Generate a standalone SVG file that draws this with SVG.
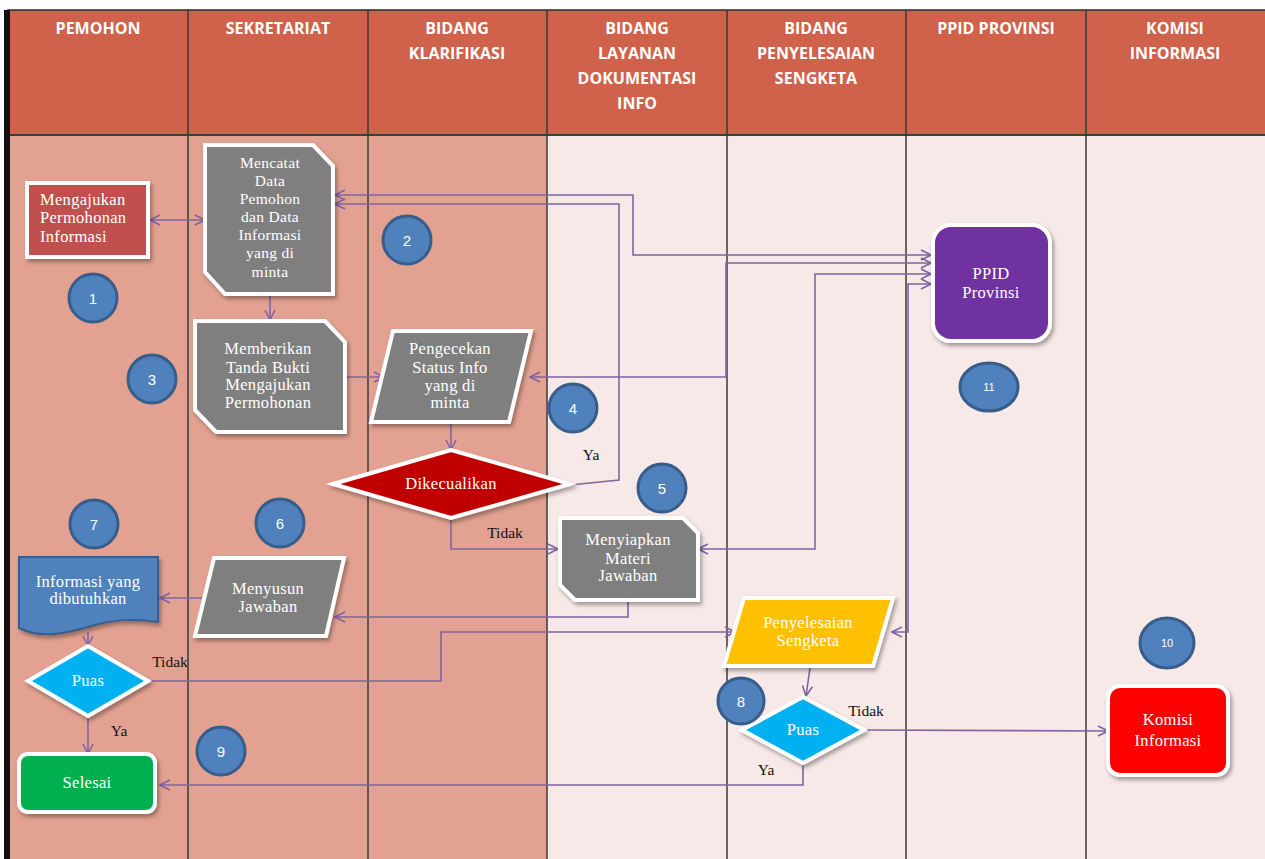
<svg xmlns="http://www.w3.org/2000/svg" width="1265" height="859" viewBox="0 0 1265 859">
<defs>
<style>
.hdr{fill:#D0614A;stroke:#2a2a2a;stroke-width:1.5}
.laneA{fill:#E3A291}
.laneB{fill:#F7E9E7}
.sep{stroke:#3a3a3a;stroke-width:1.5}
.ht{font-family:"Open Sans","Liberation Sans",sans-serif;font-weight:bold;font-size:16px;fill:#fff;text-anchor:middle}
.nt{font-family:"Liberation Serif","DejaVu Serif",serif;font-size:16.5px;letter-spacing:0.3px;fill:#fff;text-anchor:middle}
.lb{font-family:"Liberation Serif","DejaVu Serif",serif;font-size:15.5px;fill:#111;text-anchor:middle}
.box{stroke:#fff;stroke-width:4;filter:url(#sh)}
.gray{fill:#7F7F7F}
.num{fill:#4F81BD;stroke:#385D8A;stroke-width:3}
.nn{font-family:"Liberation Sans","Open Sans",sans-serif;font-size:15px;fill:#fff;text-anchor:middle}
.cn{fill:none;stroke:#8064A2;stroke-width:1.6}
</style>
<filter id="sh" x="-10%" y="-10%" width="130%" height="130%">
<feDropShadow dx="2" dy="3" stdDeviation="2" flood-color="#000" flood-opacity="0.35"/>
</filter>
<marker id="ar" viewBox="0 0 12 12" refX="11" refY="6" markerWidth="12" markerHeight="12" markerUnits="userSpaceOnUse" orient="auto-start-reverse">
<path d="M1,1 L11,6 L1,11" fill="none" stroke="#8064A2" stroke-width="1.6"/>
</marker>
</defs>

<g id="lanes">
<rect x="0" y="0" width="1265" height="859" fill="#fff"/>
<rect class="laneA" x="8" y="135" width="539" height="724"/>
<rect class="laneB" x="547" y="135" width="718" height="724"/>
<rect class="hdr" x="8" y="10" width="1262" height="125"/>
<line class="sep" x1="188" y1="10" x2="188" y2="859"/>
<line class="sep" x1="368" y1="10" x2="368" y2="859"/>
<line class="sep" x1="547" y1="10" x2="547" y2="859"/>
<line class="sep" x1="727" y1="10" x2="727" y2="859"/>
<line class="sep" x1="906" y1="10" x2="906" y2="859"/>
<line class="sep" x1="1086" y1="10" x2="1086" y2="859"/>
<line class="sep" x1="8" y1="135" x2="1265" y2="135"/>
<rect x="4" y="10" width="6" height="849" fill="#111"/>
<text class="ht" x="98" y="34">PEMOHON</text>
<text class="ht" x="278" y="34">SEKRETARIAT</text>
<text class="ht" x="457" y="34">BIDANG</text>
<text class="ht" x="457" y="59">KLARIFIKASI</text>
<text class="ht" x="637" y="34">BIDANG</text>
<text class="ht" x="637" y="59">LAYANAN</text>
<text class="ht" x="637" y="84">DOKUMENTASI</text>
<text class="ht" x="637" y="109">INFO</text>
<text class="ht" x="816" y="34">BIDANG</text>
<text class="ht" x="816" y="59">PENYELESAIAN</text>
<text class="ht" x="816" y="84">SENGKETA</text>
<text class="ht" x="996" y="34">PPID PROVINSI</text>
<text class="ht" x="1175" y="34">KOMISI</text>
<text class="ht" x="1175" y="59">INFORMASI</text>
</g>

<g id="connectors">
<path class="cn" d="M150,220 L205,220" marker-start="url(#ar)" marker-end="url(#ar)"/>
<path class="cn" d="M270,295 L270,320" marker-end="url(#ar)"/>
<path class="cn" d="M345,377 L384,377" marker-end="url(#ar)"/>
<path class="cn" d="M335,195 L633,195 L633,255 L931,255" marker-start="url(#ar)" marker-end="url(#ar)"/>
<path class="cn" d="M570,485 L619,480 L619,204 L335,204" marker-end="url(#ar)"/>
<path class="cn" d="M530,377 L726,377 L726,263 L931,263" marker-start="url(#ar)" marker-end="url(#ar)"/>
<path class="cn" d="M698,549 L815,549 L815,274 L931,274" marker-start="url(#ar)" marker-end="url(#ar)"/>
<path class="cn" d="M892,632 L908,632 L908,284 L931,284" marker-start="url(#ar)" marker-end="url(#ar)"/>
<path class="cn" d="M451,423 L451,450" marker-end="url(#ar)"/>
<path class="cn" d="M451,518 L451,549 L558,549" marker-end="url(#ar)"/>
<path class="cn" d="M628,601 L628,617 L335,617" marker-end="url(#ar)"/>
<path class="cn" d="M208,598 L160,598" marker-end="url(#ar)"/>
<path class="cn" d="M88,632 L88,646" marker-end="url(#ar)"/>
<path class="cn" d="M148,681 L441,681 L441,632 L735,632" marker-end="url(#ar)"/>
<path class="cn" d="M88,716 L88,754" marker-end="url(#ar)"/>
<path class="cn" d="M810,668 L806,696" marker-end="url(#ar)"/>
<path class="cn" d="M864,730 L1108,731" marker-end="url(#ar)"/>
<path class="cn" d="M803,763 L803,785 L160,785" marker-end="url(#ar)"/>
<text class="lb" x="591" y="460">Ya</text>
<text class="lb" x="505" y="538">Tidak</text>
<text class="lb" x="170" y="667">Tidak</text>
<text class="lb" x="119" y="736">Ya</text>
<text class="lb" x="866" y="716">Tidak</text>
<text class="lb" x="766" y="775">Ya</text>
</g>

<g id="n-mengajukan">
<rect class="box" x="27" y="183" width="121" height="74" fill="#C0504D"/>
<text class="nt" x="40" y="205" style="text-anchor:start">Mengajukan</text>
<text class="nt" x="40" y="223" style="text-anchor:start">Permohonan</text>
<text class="nt" x="40" y="242" style="text-anchor:start">Informasi</text>
</g>

<g id="n-mencatat">
<polygon class="box gray" points="205,145 313,145 333,166 333,294 225,294 205,272"/>
<text class="nt" x="270" y="168" style="font-size:15.5px">Mencatat</text>
<text class="nt" x="270" y="186" style="font-size:15.5px">Data</text>
<text class="nt" x="270" y="204" style="font-size:15.5px">Pemohon</text>
<text class="nt" x="270" y="222" style="font-size:15.5px">dan Data</text>
<text class="nt" x="270" y="240" style="font-size:15.5px">Informasi</text>
<text class="nt" x="270" y="258" style="font-size:15.5px">yang di</text>
<text class="nt" x="270" y="277" style="font-size:15.5px">minta</text>
</g>

<g id="n-memberikan">
<polygon class="box gray" points="195,321 325,321 345,342 345,432 216,432 195,410"/>
<text class="nt" x="268" y="354">Memberikan</text>
<text class="nt" x="268" y="373">Tanda Bukti</text>
<text class="nt" x="268" y="390">Mengajukan</text>
<text class="nt" x="268" y="408">Permohonan</text>
</g>

<g id="n-pengecekan">
<polygon class="box gray" points="393,331 531,331 509,422 371,422"/>
<text class="nt" x="450" y="354">Pengecekan</text>
<text class="nt" x="450" y="373">Status Info</text>
<text class="nt" x="450" y="391">yang di</text>
<text class="nt" x="450" y="408">minta</text>
</g>

<g id="n-dikecualikan">
<polygon class="box" points="333,484 451,450 570,484 451,518" fill="#C00000"/>
<text class="nt" x="451" y="489">Dikecualikan</text>
</g>

<g id="n-menyiapkan">
<polygon class="box gray" points="560,518 683,518 698,533 698,600 575,600 560,585"/>
<text class="nt" x="628" y="545">Menyiapkan</text>
<text class="nt" x="628" y="564">Materi</text>
<text class="nt" x="628" y="581">Jawaban</text>
</g>

<g id="n-menyusun">
<polygon class="box gray" points="214,558 344,558 326,636 195,636"/>
<text class="nt" x="268" y="594">Menyusun</text>
<text class="nt" x="268" y="612">Jawaban</text>
</g>

<g id="n-informasi">
<path d="M19,557 L158,557 L158,622 C130,618 110,620 88,627 C60,635 40,638 19,628 Z" fill="#4F81BD" stroke="#385D8A" stroke-width="2" filter="url(#sh)"/>
<text class="nt" x="88" y="587">Informasi yang</text>
<text class="nt" x="88" y="604">dibutuhkan</text>
</g>

<g id="n-puas1">
<polygon class="box" points="28,681 88,646 148,681 88,716" fill="#00B0F0"/>
<text class="nt" x="88" y="686">Puas</text>
</g>

<g id="n-selesai">
<rect class="box" x="19" y="754" width="136" height="58" rx="9" fill="#00B050"/>
<text class="nt" x="87" y="788">Selesai</text>
</g>

<g id="n-ppid">
<rect class="box" x="933" y="225" width="117" height="116" rx="18" fill="#7030A0"/>
<text class="nt" x="991" y="279">PPID</text>
<text class="nt" x="991" y="298">Provinsi</text>
</g>

<g id="n-penyelesaian">
<polygon class="box" points="744,598 893,598 873,666 724,666" fill="#FFC000"/>
<text class="nt" x="808" y="628">Penyelesaian</text>
<text class="nt" x="808" y="646">Sengketa</text>
</g>

<g id="n-puas2">
<polygon class="box" points="742,730 803,697 864,730 803,763" fill="#00B0F0"/>
<text class="nt" x="803" y="735">Puas</text>
</g>

<g id="n-komisi">
<rect class="box" x="1108" y="686" width="120" height="89" rx="12" fill="#FF0000"/>
<text class="nt" x="1168" y="725">Komisi</text>
<text class="nt" x="1168" y="746">Informasi</text>
</g>

<g id="steps">
<circle class="num" cx="93" cy="298" r="24"/><text class="nn" x="93" y="304">1</text>
<circle class="num" cx="407" cy="240" r="24"/><text class="nn" x="407" y="246">2</text>
<circle class="num" cx="152" cy="379" r="24"/><text class="nn" x="152" y="385">3</text>
<circle class="num" cx="573" cy="408" r="24"/><text class="nn" x="573" y="414">4</text>
<circle class="num" cx="662" cy="488" r="24"/><text class="nn" x="662" y="494">5</text>
<circle class="num" cx="280" cy="523" r="24"/><text class="nn" x="280" y="529">6</text>
<circle class="num" cx="94" cy="524" r="24"/><text class="nn" x="94" y="530">7</text>
<circle class="num" cx="741" cy="701" r="23"/><text class="nn" x="741" y="707">8</text>
<circle class="num" cx="221" cy="751" r="24"/><text class="nn" x="221" y="757">9</text>
<ellipse class="num" cx="1167" cy="643" rx="27" ry="25"/><text class="nn" x="1167" y="647" style="font-size:11px">10</text>
<ellipse class="num" cx="989" cy="387" rx="29" ry="24"/><text class="nn" x="989" y="391" style="font-size:11px">11</text>
</g>
</svg>
